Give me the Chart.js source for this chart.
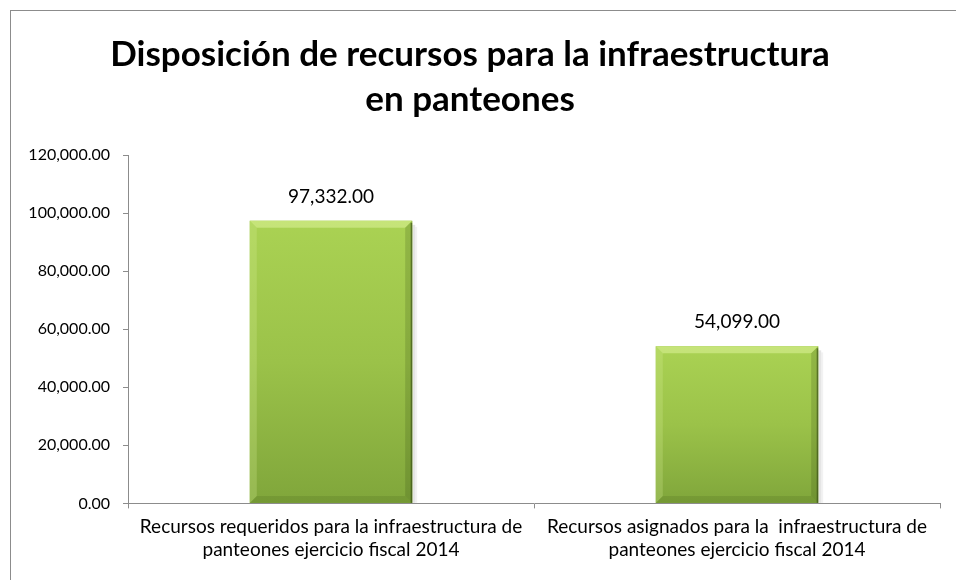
<!DOCTYPE html>
<html>
<head>
<meta charset="utf-8">
<script src="https://cdn.jsdelivr.net/npm/chart.js@4/dist/chart.umd.min.js"></script>
<style>
html,body{margin:0;padding:0;background:#fff;}
#wrap{width:956px;height:580px;position:relative;}
</style>
</head>
<body>
<div id="wrap"><canvas id="c" width="956" height="580"></canvas></div>
<script>
const chartTitle = ["Disposición de recursos para la infraestructura", "en panteones"];
const categories = [
  ["Recursos requeridos para la infraestructura de", "panteones ejercicio fiscal 2014"],
  ["Recursos asignados para la  infraestructura de", "panteones ejercicio fiscal 2014"]
];
const values = [97332, 54099];
const yTicks = [0, 20000, 40000, 60000, 80000, 100000, 120000];

const FONT = "Lato, 'Open Sans', sans-serif";
const fmt = v => Number(v).toLocaleString('en-US', {minimumFractionDigits: 2, maximumFractionDigits: 2});

const framePlugin = {
  id: 'frame',
  beforeDraw(chart) {
    const ctx = chart.ctx;
    ctx.save();
    ctx.fillStyle = '#fff';
    ctx.fillRect(0, 0, chart.width, chart.height);
    ctx.strokeStyle = '#8c8c8c';
    ctx.lineWidth = 1;
    ctx.strokeRect(10.5, 10.5, chart.width + 20, chart.height + 20);
    ctx.restore();
  }
};

const bevelPlugin = {
  id: 'bevel',
  afterDatasetsDraw(chart) {
    const ctx = chart.ctx;
    const meta = chart.getDatasetMeta(0);
    meta.data.forEach((bar, i) => {
      const w = bar.width;
      const l = bar.x - w / 2, r = bar.x + w / 2, t = bar.y, b = bar.base;
      const h = b - t;
      ctx.save();
      // shadow
      ctx.fillStyle = 'rgba(0,0,0,0.10)';
      ctx.fillRect(r, t + 4, 3, h - 4);
      ctx.fillStyle = 'rgba(0,0,0,0.05)';
      ctx.fillRect(r + 3, t + 6, 2, h - 6);
      // body gradient
      const g = ctx.createLinearGradient(0, t, 0, b);
      g.addColorStop(0, '#aad253');
      g.addColorStop(0.5, '#9bc249');
      g.addColorStop(1, '#80a63b');
      ctx.fillStyle = g;
      ctx.fillRect(l, t, w, h);
      const bv = 7;
      // top bevel
      ctx.fillStyle = 'rgba(225,245,160,0.5)';
      ctx.beginPath();
      ctx.moveTo(l, t); ctx.lineTo(r, t); ctx.lineTo(r - bv, t + bv); ctx.lineTo(l + bv, t + bv); ctx.closePath(); ctx.fill();
      // left bevel
      ctx.fillStyle = 'rgba(215,240,150,0.25)';
      ctx.beginPath();
      ctx.moveTo(l, t); ctx.lineTo(l + bv, t + bv); ctx.lineTo(l + bv, b - bv); ctx.lineTo(l, b); ctx.closePath(); ctx.fill();
      // right bevel
      ctx.fillStyle = 'rgba(40,60,10,0.18)';
      ctx.beginPath();
      ctx.moveTo(r, t); ctx.lineTo(r - bv, t + bv); ctx.lineTo(r - bv, b - bv); ctx.lineTo(r, b); ctx.closePath(); ctx.fill();
      // bottom bevel
      ctx.fillStyle = 'rgba(40,60,10,0.13)';
      ctx.beginPath();
      ctx.moveTo(l, b); ctx.lineTo(l + bv, b - bv); ctx.lineTo(r - bv, b - bv); ctx.lineTo(r, b); ctx.closePath(); ctx.fill();
      // dark outer edge right
      ctx.fillStyle = 'rgba(50,70,20,0.6)';
      ctx.fillRect(r - 1.5, t + 2, 1.5, h - 2);
      ctx.restore();
      // data label
      ctx.save();
      ctx.fillStyle = '#000';
      ctx.font = "19px " + FONT;
      ctx.textAlign = 'center';
      ctx.textBaseline = 'middle';
      ctx.fillText(fmt(values[i]), bar.x, t - 24);
      ctx.restore();
    });
  }
};

new Chart(document.getElementById('c'), {
  type: 'bar',
  data: {
    labels: categories,
    datasets: [{
      data: values,
      backgroundColor: '#9cc349',
      borderWidth: 0,
      categoryPercentage: 0.4,
      barPercentage: 1.0
    }]
  },
  options: {
    responsive: false,
    animation: false,
    events: [],
    layout: { padding: { left: 0, right: 16, top: 0, bottom: 11 } },
    plugins: {
      legend: { display: false },
      tooltip: { enabled: false },
      title: {
        display: true,
        text: chartTitle,
        color: '#000',
        font: { family: FONT, size: 35, weight: 'bold', lineHeight: 1.286 },
        padding: { top: 32.5, bottom: 32.5 }
      }
    },
    scales: {
      y: {
        min: 0, max: 120000,
        afterBuildTicks(scale) { scale.ticks = yTicks.map(v => ({ value: v })); },
        afterFit(scale) { scale.width = 128; },
        ticks: {
          color: '#000',
          font: { family: FONT, size: 16 },
          padding: 13,
          callback: v => fmt(v)
        },
        grid: { drawOnChartArea: false, drawTicks: true, tickLength: 5, color: '#8c8c8c' },
        border: { display: true, color: '#8c8c8c', width: 1 }
      },
      x: {
        offset: true,
        ticks: {
          color: '#000',
          font: { family: FONT, size: 19, lineHeight: 1.2 },
          padding: 7.5,
          maxRotation: 0,
          autoSkip: false
        },
        grid: { drawOnChartArea: false, drawTicks: true, tickLength: 5, color: '#8c8c8c', offset: true },
        border: { display: true, color: '#8c8c8c', width: 1 }
      }
    }
  },
  plugins: [framePlugin, bevelPlugin]
});
</script>
</body>
</html>
